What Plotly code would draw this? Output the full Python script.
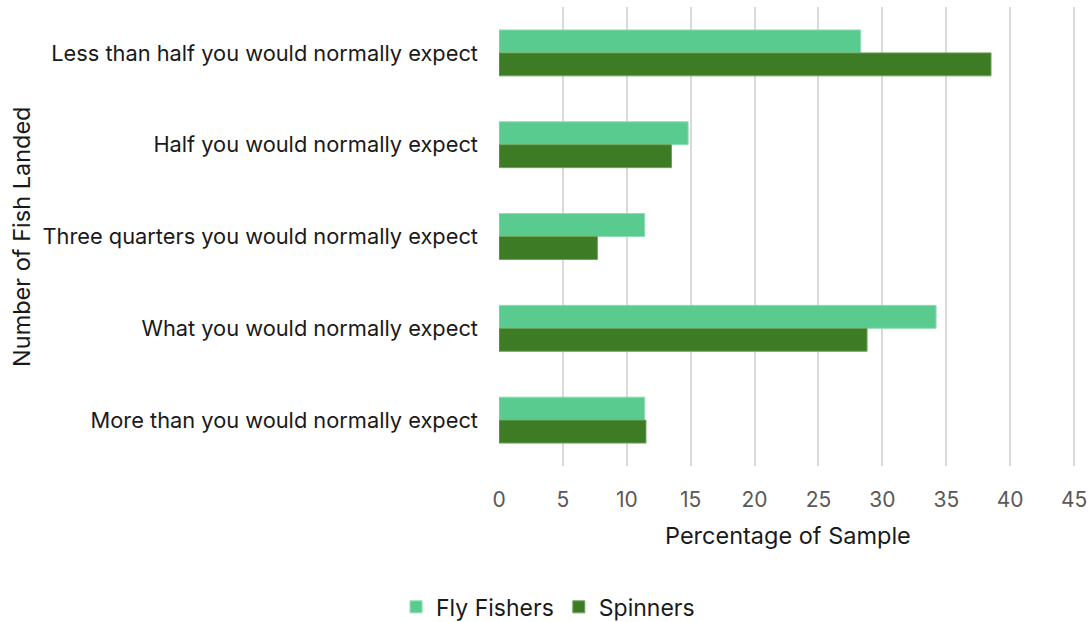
import plotly.graph_objects as go

# Survey responses: number of fish landed compared with a normal outing
categories = [
    "Less than half you would normally expect",
    "Half you would normally expect",
    "Three quarters you would normally expect",
    "What you would normally expect",
    "More than you would normally expect",
]
fly_fishers = [28.3, 14.8, 11.4, 34.2, 11.4]
spinners = [38.5, 13.5, 7.7, 28.8, 11.5]
x_ticks = [0, 5, 10, 15, 20, 25, 30, 35, 40, 45]

FONT = "Inter, Open Sans, sans-serif"
TEXT = "#1a1a1a"

fig = go.Figure()
fig.add_trace(go.Bar(
    name="Fly Fishers", y=categories, x=fly_fishers, orientation="h",
    marker=dict(color="#5ACB8F", line=dict(color="#8EDDB2", width=1)),
))
fig.add_trace(go.Bar(
    name="Spinners", y=categories, x=spinners, orientation="h",
    marker=dict(color="#3D7B24", line=dict(color="#6FA35A", width=1)),
))

fig.update_layout(
    width=1089, height=622,
    margin=dict(l=499, r=13, t=7, b=156, autoexpand=False),
    paper_bgcolor="white", plot_bgcolor="white",
    barmode="group", bargap=0.5, bargroupgap=0,
    font=dict(family=FONT, color=TEXT),
    showlegend=True,
    legend=dict(
        orientation="h", x=0.085, xref="paper", xanchor="center",
        y=-0.307, yanchor="middle", yref="paper",
        font=dict(size=23, color=TEXT),
        itemwidth=30, traceorder="normal",
    ),
    xaxis=dict(
        range=[0, 45.15], tickvals=x_ticks, ticktext=[str(v) for v in x_ticks],
        showgrid=True, gridcolor="#D9D9D9", gridwidth=2,
        zeroline=False, showline=False, automargin=False,
        tickfont=dict(size=21, color="#595959"),
        ticklabelstandoff=19, ticklabeloverflow="allow",
    ),
    yaxis=dict(
        autorange="reversed", showgrid=False, zeroline=False, showline=False,
        automargin=False,
        tickfont=dict(size=21.8, color=TEXT),
        ticklabelstandoff=20,
    ),
    annotations=[
        dict(text="Percentage of Sample", xref="paper", yref="paper",
             x=0.5, y=-0.1525, xanchor="center", yanchor="middle",
             showarrow=False, font=dict(size=23.5, color=TEXT)),
        dict(text="Number of Fish Landed", xref="paper", yref="paper",
             x=-0.8267, y=0.499, xanchor="center", yanchor="middle",
             textangle=-90, showarrow=False, font=dict(size=23.5, color=TEXT)),
    ],
)

fig.write_html("out.html")
